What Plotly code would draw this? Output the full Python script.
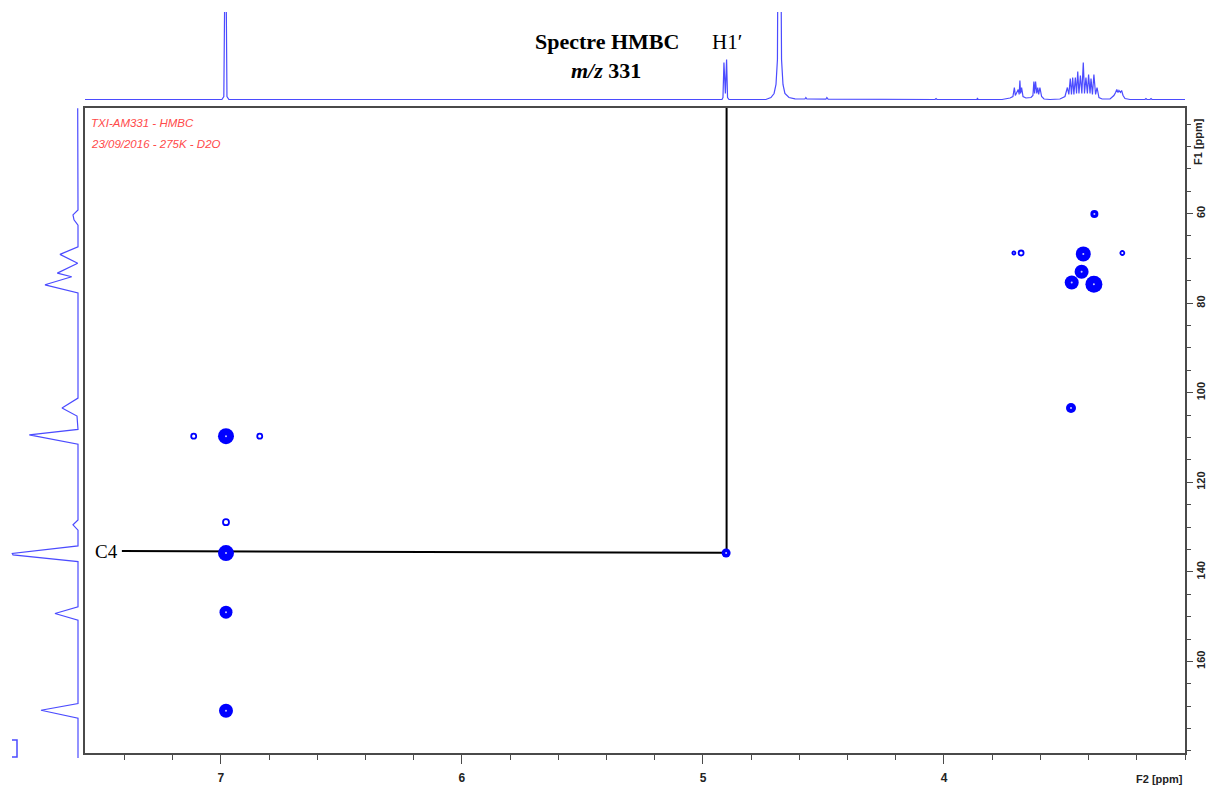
import plotly.graph_objects as go

W, H = 1206, 787


def px(x):
    return x / W


def py(y):
    return 1 - y / H


# ---------------- data ----------------
# 1H projection (F2, ppm) : vertices (relative intensity)
top_ppm = [7.564, 6.996, 6.988, 6.981, 6.975, 6.967,
           4.921, 4.917, 4.913, 4.907, 4.902, 4.898, 4.892,
           4.739, 4.718, 4.705, 4.697, 4.691, 4.688, 4.678, 4.674, 4.668, 4.660, 4.643, 4.618,
           4.577, 4.573, 4.569, 4.490, 4.486, 4.481,
           4.037, 4.033, 4.029,
           3.863, 3.861, 3.859,
           3.759, 3.726, 3.714, 3.708, 3.704, 3.692, 3.688, 3.685, 3.682, 3.678, 3.672, 3.660,
           3.639, 3.631, 3.627, 3.624, 3.620, 3.615, 3.611, 3.607, 3.602, 3.595, 3.585, 3.560, 3.519,
           3.498, 3.488, 3.482, 3.476, 3.471, 3.466, 3.461, 3.455, 3.450, 3.445, 3.440, 3.434,
           3.428, 3.422, 3.417, 3.411, 3.405, 3.400, 3.394, 3.390, 3.384, 3.378, 3.371, 3.365,
           3.357, 3.344,
           3.311, 3.295, 3.288, 3.283, 3.278, 3.274, 3.268, 3.263, 3.257, 3.249, 3.228,
           3.166, 3.162, 3.158, 3.145, 3.141, 3.137, 3.000]
top_int = [0, 0, 3, 200, 3, 0,
           0, 2, 37, 6, 40, 2, 0,
           0, 2, 6, 15, 40, 200, 200, 40, 15, 6, 2, 0.7,
           0.5, 2, 0.5, 0.3, 2, 0.3,
           0, 1, 0,
           0, 1.5, 0,
           0, 1.5, 3, 12, 4, 10, 5, 19, 6, 12, 3, 1.5,
           2, 4, 18, 6, 18, 6, 12, 5, 12, 3, 0.5, 0, 0.5,
           3, 12, 5, 21, 5, 22, 5, 22, 6, 28, 6, 24,
           6, 37, 6, 22, 6, 25, 6, 21, 5, 25, 5, 12,
           2, 0.5,
           0.5, 4, 7, 10, 7, 9, 7, 9, 4, 1, 0,
           0, 1, 0, 0, 1, 0, 0]

# 13C projection (F1, ppm) : vertices (relative intensity)
left_ppm = [36.5, 59.2, 60.3, 61.4, 62.6,
            67.4, 69.1, 71.1, 73.3, 74.1, 75.9, 77.7,
            101.2, 103.4, 105.2, 108.2, 109.4, 111.5,
            128.4, 129.5, 130.7,
            134.2, 135.9, 136.2, 137.7,
            147.8, 149.3, 150.8,
            169.4, 170.9, 172.7, 181.6]
left_int = [0.3, 0, 5, 4, 0,
            0, 18, 0.3, 20.7, 6.3, 33, 0,
            0, 16, 1, 0, 48.7, 0,
            0, 5, 0,
            0, 65.7, 65, 0,
            0, 23, 0,
            0, 37, 0, 0]

# HMBC cross peaks (F2 = 1H, F1 = 13C)
peak_h = [6.979, 7.113, 6.839, 6.979, 6.979, 6.979, 6.979, 4.904,
          3.376, 3.710, 3.680, 3.422, 3.260, 3.429, 3.470, 3.378, 3.473]
peak_c = [109.7, 109.7, 109.7, 128.9, 135.8, 149.0, 171.0, 135.8,
          60.1, 68.8, 68.8, 69.0, 68.8, 73.0, 75.4, 75.8, 103.4]
peak_strength = [16, 5, 5, 6, 16, 13, 14, 9,
                 8, 3, 5, 15, 4, 14, 14, 17, 10]

# assignment lines (H1' -> C4)
h1p_ppm = 4.902
c4_ppm_left = 135.35
c4_ppm_right = 135.75
c4_line_start = 7.411

x_ticks = [7, 6, 5, 4]
y_ticks = [60, 80, 100, 120, 140, 160]

X_RANGE = [7.564, 3.0]
Y_RANGE = [180.45, 36.42]

BLUE_SPEC = "#4b4bff"
FRAME = "#4a4a4a"

fig = go.Figure()

# top 1D spectrum
fig.add_trace(go.Scatter(x=top_ppm, y=top_int, mode="lines",
                         line=dict(color=BLUE_SPEC, width=1.2),
                         xaxis="x2", yaxis="y2", hoverinfo="skip", showlegend=False))
# left 1D spectrum
fig.add_trace(go.Scatter(x=left_int, y=left_ppm, mode="lines",
                         line=dict(color=BLUE_SPEC, width=1.2),
                         xaxis="x3", yaxis="y3", hoverinfo="skip", showlegend=False))

# assignment lines
fig.add_trace(go.Scatter(x=[h1p_ppm, h1p_ppm], y=[Y_RANGE[1], c4_ppm_right], mode="lines",
                         line=dict(color="black", width=2), showlegend=False, hoverinfo="skip"))
fig.add_trace(go.Scatter(x=[c4_line_start, h1p_ppm], y=[c4_ppm_left, c4_ppm_right], mode="lines",
                         line=dict(color="black", width=2), showlegend=False, hoverinfo="skip"))

# cross peaks
solid = [i for i, s in enumerate(peak_strength) if s >= 7]
ring = [i for i, s in enumerate(peak_strength) if s < 7]
fig.add_trace(go.Scatter(x=[peak_h[i] for i in solid], y=[peak_c[i] for i in solid], mode="markers",
                         marker=dict(color="#0000ff", opacity=1, size=[peak_strength[i] for i in solid],
                                     line=dict(width=0)),
                         showlegend=False))
fig.add_trace(go.Scatter(x=[peak_h[i] for i in solid], y=[peak_c[i] for i in solid], mode="markers",
                         marker=dict(color="#c8c8ff", opacity=1, size=2, line=dict(width=0)),
                         showlegend=False, hoverinfo="skip"))
fig.add_trace(go.Scatter(x=[peak_h[i] for i in ring], y=[peak_c[i] for i in ring], mode="markers",
                         marker=dict(color="white", opacity=1, size=[peak_strength[i] for i in ring],
                                     line=dict(width=1.8, color="#0000ff")),
                         showlegend=False))

tickfont = dict(family="Liberation Sans", size=12, color="#222222", weight="bold")
ytickfont = dict(family="Liberation Sans", size=11, color="#222222", weight="bold")

fig.update_layout(
    width=W, height=H,
    margin=dict(l=0, r=0, t=0, b=0),
    paper_bgcolor="white", plot_bgcolor="white",
    showlegend=False,
    xaxis=dict(domain=[px(85), px(1185)], range=X_RANGE, anchor="y",
               showline=True, linecolor=FRAME, linewidth=1.5, mirror=True,
               showgrid=False, zeroline=False,
               tickmode="array", tickvals=x_ticks, ticktext=[str(v) for v in x_ticks],
               ticks="outside", ticklen=9, tickwidth=1.2, tickcolor=FRAME,
               minor=dict(dtick=0.2, tick0=0, ticks="outside", ticklen=5, tickwidth=1.2, tickcolor=FRAME),
               tickfont=tickfont, ticklabelstandoff=4, automargin=False),
    yaxis=dict(domain=[py(753), py(108)], range=Y_RANGE, anchor="x", side="right",
               showline=True, linecolor=FRAME, linewidth=1.5, mirror=True,
               showgrid=False, zeroline=False,
               tickmode="array", tickvals=y_ticks, ticktext=[str(v) for v in y_ticks],
               ticks="outside", ticklen=6, tickwidth=1.2, tickcolor=FRAME,
               minor=dict(dtick=5, tick0=0, ticks="outside", ticklen=4, tickwidth=1.2, tickcolor=FRAME),
               tickangle=-90, tickfont=ytickfont, ticklabelstandoff=-1, automargin=False),
    xaxis2=dict(domain=[px(85), px(1185)], range=X_RANGE, anchor="y2", visible=False),
    yaxis2=dict(domain=[py(104), py(12)], range=[-4.5, 87.5], anchor="x2", visible=False),
    xaxis3=dict(domain=[0, px(84)], range=[78, -6], anchor="y3", visible=False),
    yaxis3=dict(domain=[py(758), py(108)], range=[181.57, 36.42], anchor="x3", visible=False),
)

serif = "Liberation Serif"
ann = [
    dict(x=px(607), y=py(42), text="<b>Spectre HMBC</b>", font=dict(family=serif, size=22, color="black")),
    dict(x=px(606), y=py(70), text="<b><i>m/z</i> 331</b>", font=dict(family=serif, size=22, color="black")),
    dict(x=px(727), y=py(42), text="H1′", font=dict(family=serif, size=21, color="black")),
    dict(x=px(106), y=py(551), text="C4", font=dict(family=serif, size=19, color="black")),
    dict(x=px(89), y=py(123), text="<i>TXI-AM331 - HMBC</i>", xanchor="left",
         font=dict(family="Liberation Sans", size=11.5, color="#ff4a4a")),
    dict(x=px(89), y=py(144), text="<i>23/09/2016 - 275K - D2O</i>", xanchor="left",
         font=dict(family="Liberation Sans", size=11.5, color="#ff4a4a")),
    dict(x=px(1198), y=py(142), text="<b>F1 [ppm]</b>", textangle=-90,
         font=dict(family="Liberation Sans", size=11, color="#222222")),
    dict(x=px(1185), y=py(779), text="<b>F2 [ppm]</b>", xanchor="right",
         font=dict(family="Liberation Sans", size=11, color="#222222")),
]
for a in ann:
    a.setdefault("xanchor", "center")
    a.update(xref="paper", yref="paper", yanchor="middle", showarrow=False)
fig.update_layout(annotations=ann)

# small integral bracket at the lower left of the 13C projection
fig.add_shape(type="path", xref="paper", yref="paper",
              path=f"M {px(12)},{py(740)} L {px(17)},{py(740)} L {px(17)},{py(757)} L {px(12)},{py(757)}",
              line=dict(color=BLUE_SPEC, width=1.5))

fig.write_html("out.html", config={"displayModeBar": False},
               post_script="document.body.style.margin='0';document.body.style.padding='0';"
                           "document.documentElement.style.overflow='hidden';")
